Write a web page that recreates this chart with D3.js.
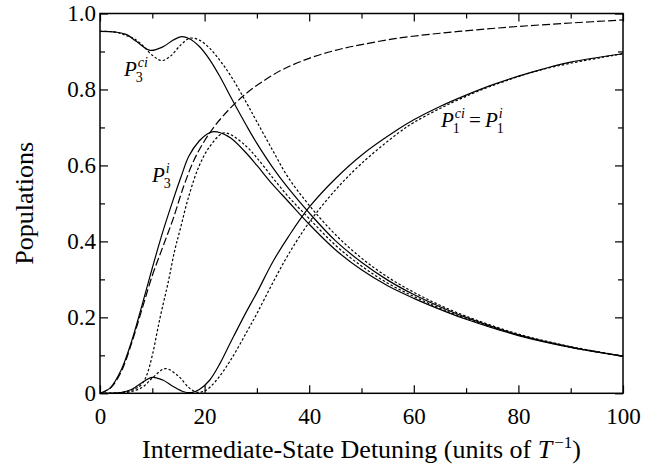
<!DOCTYPE html>
<html>
<head>
<meta charset="utf-8">
<script src="https://cdn.jsdelivr.net/npm/d3@7"></script>
<style>
  body { margin: 0; background: #fff; }
  text { font-family: "Liberation Serif", "Times New Roman", serif; fill: #000; }
</style>
</head>
<body>
<svg id="chart" width="655" height="470"></svg>
<script>

// Tick values for both axes.
var xMajorTicks = [0, 20, 40, 60, 80, 100];
var xMinorTicks = [10, 30, 50, 70, 90];
var yMajorTicks = [0, 0.2, 0.4, 0.6, 0.8, 1.0];
var yMinorTicks = [0.1, 0.3, 0.5, 0.7, 0.9];

// P3 (ci), solid curve.
var p3ciSolidX = [0, 3, 5, 7, 9.6, 12, 14, 15.6, 17, 19, 21, 23, 25, 28, 30, 33, 36, 40, 45, 50, 55, 60, 65, 70, 80, 90, 100];
var p3ciSolidY = [0.953, 0.951, 0.945, 0.926, 0.903, 0.912, 0.93, 0.939, 0.934, 0.913, 0.878, 0.832, 0.78, 0.705, 0.658, 0.595, 0.54, 0.475, 0.402, 0.345, 0.298, 0.26, 0.228, 0.2, 0.154, 0.122, 0.098];

// P3 (ci), dotted curve.
var p3ciDotX = [0, 3, 5, 6.4, 8, 10, 11.8, 13.5, 15.5, 17.2, 19, 21, 23, 25, 28, 30, 33, 36, 40, 45, 50, 55, 60, 65, 70, 80, 90, 100];
var p3ciDotY = [0.953, 0.951, 0.942, 0.935, 0.918, 0.89, 0.876, 0.888, 0.918, 0.935, 0.93, 0.908, 0.875, 0.836, 0.765, 0.715, 0.64, 0.568, 0.495, 0.418, 0.356, 0.306, 0.266, 0.232, 0.203, 0.156, 0.123, 0.098];

// P3 (i), solid curve.
var p3iSolidX = [0, 2, 4, 6, 8, 10, 12, 14, 15.5, 17, 19, 20.5, 21.7, 23, 25, 28, 30, 33, 36, 40, 45, 50, 55, 60, 65, 70, 80, 90, 100];
var p3iSolidY = [0, 0.015, 0.06, 0.135, 0.23, 0.33, 0.425, 0.51, 0.57, 0.625, 0.665, 0.683, 0.689, 0.686, 0.672, 0.632, 0.6, 0.55, 0.505, 0.445, 0.378, 0.325, 0.283, 0.25, 0.221, 0.195, 0.152, 0.121, 0.098];

// P3 (i), dotted curve.
var p3iDotX = [0, 4, 6, 7.5, 8.3, 9, 10, 11.5, 13, 14.3, 15.3, 17, 19, 21, 23.5, 25, 28, 30, 33, 36, 40, 45, 50, 55, 60, 65, 70, 80, 90, 100];
var p3iDotY = [0, 0.002, 0.008, 0.018, 0.03, 0.05, 0.1, 0.2, 0.29, 0.377, 0.43, 0.52, 0.6, 0.65, 0.685, 0.681, 0.65, 0.62, 0.568, 0.518, 0.46, 0.39, 0.335, 0.29, 0.255, 0.224, 0.197, 0.153, 0.121, 0.098];

// Long dashed curve.
var dashX = [0, 2, 4, 6, 8, 10, 12, 14, 16, 18, 20, 22, 25, 28, 31, 35, 40, 45, 50, 57, 65, 72, 80, 90, 100];
var dashY = [0, 0.014, 0.055, 0.13, 0.22, 0.31, 0.385, 0.46, 0.545, 0.615, 0.665, 0.705, 0.752, 0.79, 0.82, 0.853, 0.882, 0.903, 0.918, 0.935, 0.948, 0.957, 0.966, 0.975, 0.983];

// P1, solid curve.
var p1SolidX = [0, 4, 6, 8, 10, 12, 14, 16, 17.5, 19, 21, 23, 25, 28, 30, 33, 36, 40, 45, 50, 57, 60, 65, 70, 75, 80, 85, 90, 100];
var p1SolidY = [0, 0.002, 0.01, 0.028, 0.042, 0.035, 0.018, 0.004, 0.002, 0.01, 0.035, 0.08, 0.135, 0.215, 0.265, 0.345, 0.412, 0.49, 0.565, 0.627, 0.695, 0.72, 0.755, 0.785, 0.812, 0.835, 0.855, 0.872, 0.894];

// P1, dotted curve.
var p1DotX = [0, 5, 8, 10, 12.5, 15, 17, 18.5, 20, 22, 25, 28, 30, 33, 36, 40, 45, 50, 57, 60, 65, 70, 75, 85, 100];
var p1DotY = [0, 0.002, 0.015, 0.04, 0.065, 0.045, 0.015, 0.003, 0.006, 0.03, 0.088, 0.16, 0.21, 0.29, 0.365, 0.45, 0.535, 0.605, 0.685, 0.713, 0.75, 0.782, 0.81, 0.854, 0.894];

// Every curve with its dash pattern ('' means solid).
var curves = [
  { xs: p3ciSolidX, ys: p3ciSolidY, dash: '' },
  { xs: p3ciDotX, ys: p3ciDotY, dash: '2.5,2' },
  { xs: p3iSolidX, ys: p3iSolidY, dash: '' },
  { xs: p3iDotX, ys: p3iDotY, dash: '2.5,2' },
  { xs: dashX, ys: dashY, dash: '8,3' },
  { xs: p1SolidX, ys: p1SolidY, dash: '' },
  { xs: p1DotX, ys: p1DotY, dash: '2.5,2' }
];

var svg = d3.select('#chart');

// Frame edges in pixels ('top' is taken by window.top, so prefix them).
var plotLeft = 100, plotRight = 623, plotTop = 13.5, plotBottom = 393.3;

var x = d3.scaleLinear().domain([0, 100]).range([plotLeft, plotRight]);
var y = d3.scaleLinear().domain([0, 1]).range([plotBottom, plotTop]);

// Clip the curves to the frame.
svg.append('clipPath').attr('id', 'plotClip')
  .append('rect')
  .attr('x', plotLeft).attr('y', plotTop)
  .attr('width', plotRight - plotLeft).attr('height', plotBottom - plotTop);

var line = d3.line()
  .x(function(d) { return x(d[0]); })
  .y(function(d) { return y(d[1]); })
  .curve(d3.curveCatmullRom.alpha(0.5));

svg.append('g').attr('clip-path', 'url(#plotClip)')
  .selectAll('path')
  .data(curves)
  .enter().append('path')
  .attr('d', function(c) { return line(d3.zip(c.xs, c.ys)); })
  .attr('fill', 'none')
  .attr('stroke', '#000')
  .attr('stroke-width', 1.2)
  .attr('stroke-dasharray', function(c) { return c.dash || null; });

/**
 * Draw one set of inward ticks on one side of the frame.
 * @param axisFn d3 axis generator (axisBottom etc.)
 * @param scale the scale to use
 * @param values tick values
 * @param size tick length, pointing inward
 * @param translate transform of the group
 * @param fmt tick label format, or null for no labels
 * @param padding gap between frame and label
 */
function drawTicks(axisFn, scale, values, size, translate, fmt, padding) {
  var g = svg.append('g')
    .attr('transform', translate)
    .call(axisFn(scale)
      .tickValues(values)
      .tickSizeInner(-size)
      .tickSizeOuter(0)
      .tickPadding(padding || 0)
      .tickFormat(fmt || function() { return ''; }));
  g.attr('font-family', '"Liberation Serif", "Times New Roman", serif')
    .attr('font-size', 23);
  g.select('.domain').remove();
  g.selectAll('.tick line').attr('stroke', '#000').attr('stroke-width', 1.2);
  g.selectAll('.tick text').attr('fill', '#000');
  return g;
}

var yFmt = function(d) { return d === 0 ? '0' : d3.format('.1f')(d); };

// Bottom and top.
drawTicks(d3.axisBottom, x, xMajorTicks, 8, 'translate(0,' + plotBottom + ')', d3.format('d'), 14);
drawTicks(d3.axisBottom, x, xMinorTicks, 5, 'translate(0,' + plotBottom + ')');
drawTicks(d3.axisTop, x, xMajorTicks, 8, 'translate(0,' + plotTop + ')');
drawTicks(d3.axisTop, x, xMinorTicks, 5, 'translate(0,' + plotTop + ')');

// Left and right.
drawTicks(d3.axisLeft, y, yMajorTicks, 8, 'translate(' + plotLeft + ',0)', yFmt, 4);
drawTicks(d3.axisLeft, y, yMinorTicks, 5, 'translate(' + plotLeft + ',0)');
drawTicks(d3.axisRight, y, yMajorTicks, 8, 'translate(' + plotRight + ',0)');
drawTicks(d3.axisRight, y, yMinorTicks, 5, 'translate(' + plotRight + ',0)');

// Frame.
svg.append('rect')
  .attr('x', plotLeft).attr('y', plotTop)
  .attr('width', plotRight - plotLeft).attr('height', plotBottom - plotTop)
  .attr('fill', 'none').attr('stroke', '#000').attr('stroke-width', 1.5);

// Axis titles.
var xTitle = svg.append('text')
  .attr('x', (plotLeft + plotRight) / 2).attr('y', 458)
  .attr('text-anchor', 'middle')
  .style('font-size', '26px');
xTitle.append('tspan').text('Intermediate-State Detuning (units of ');
xTitle.append('tspan').style('font-style', 'italic').text('T');
xTitle.append('tspan').attr('dx', 2).attr('dy', -10).style('font-size', '17px').text('\u22121');
xTitle.append('tspan').attr('dy', 10).text(')');

svg.append('text')
  .attr('transform', 'translate(33,' + ((plotTop + plotBottom) / 2) + ') rotate(-90)')
  .attr('text-anchor', 'middle')
  .style('font-size', '26px')
  .text('Populations');

/**
 * Write a P label with a superscript and a subscript.
 * @return x position of the label's right end.
 */
function pLabel(px, py, sup, sub) {
  var p = svg.append('text')
    .attr('x', px).attr('y', py)
    .style('font-size', '21px').style('font-style', 'italic')
    .text('P');
  var w = p.node().getComputedTextLength();
  var s1 = svg.append('text')
    .attr('x', px + w + 1).attr('y', py - 9)
    .style('font-size', '14px').style('font-style', 'italic')
    .text(sup);
  var s2 = svg.append('text')
    .attr('x', px + w - 1).attr('y', py + 6)
    .style('font-size', '14px')
    .text(sub);
  return Math.max(px + w + 1 + s1.node().getComputedTextLength(),
                  px + w - 1 + s2.node().getComputedTextLength());
}

pLabel(124, 76, 'ci', '3');
pLabel(152, 182, 'i', '3');

var end = pLabel(441, 127, 'ci', '1');
svg.append('text')
  .attr('x', end + 4).attr('y', 127)
  .style('font-size', '21px')
  .text('=');
pLabel(end + 20, 127, 'i', '1');

</script>
</body>
</html>
